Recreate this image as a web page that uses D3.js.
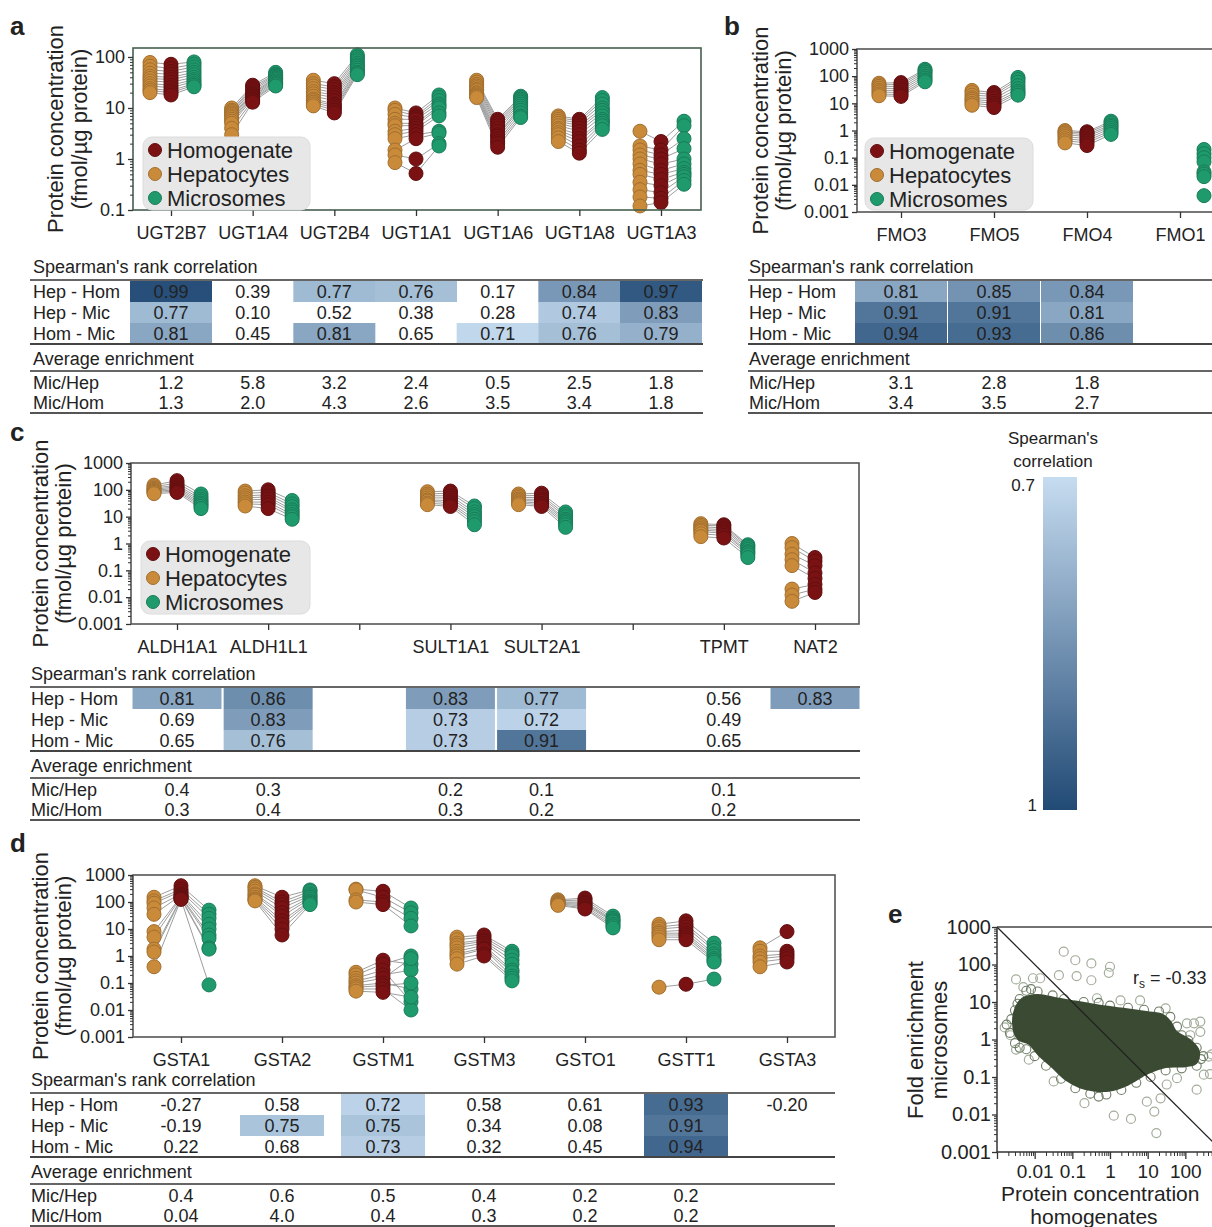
<!DOCTYPE html>
<html>
<head>
<meta charset="utf-8">
<script src="https://cdn.jsdelivr.net/npm/d3@7"></script>
<style>
  body { margin: 0; background: #fff; }
  svg text { font-family: "Liberation Sans", Arial, sans-serif; fill: #222; }
</style>
</head>
<body>
<svg id="fig" width="1212" height="1227"></svg>
<script>
// ---------- panel a : UGTs (one inner list per gene, one value per donor) ----------
var ugtGenes = ["UGT2B7", "UGT1A4", "UGT2B4", "UGT1A1", "UGT1A6", "UGT1A8", "UGT1A3"];
var ugtHep = [
  [78, 66, 56, 48, 42, 38, 34, 30, 27, 24, 22, 20],
  [10, 9, 8.5, 8, 7.5, 7, 6.5, 6, 5.5, 5, 4, 3],
  [35, 30, 27, 24, 21, 19, 17, 15, 14, 13, 12, 11],
  [10, 9, 7.5, 6, 5, 4.5, 3.5, 3, 2.5, 1.5, 1.2, 0.85],
  [35, 32, 29, 27, 25, 23, 22, 20, 19, 18, 17, 16],
  [7, 6.5, 6, 5.5, 5, 4.5, 4, 3.7, 3.3, 3, 2.6, 2.2],
  [3.5, 1.8, 1.5, 1.2, 1.0, 0.8, 0.6, 0.5, 0.35, 0.25, 0.18, 0.12]
];
var ugtHom = [
  [72, 60, 52, 46, 40, 36, 32, 28, 25, 22, 20, 18],
  [28, 26, 24, 22, 20, 19, 18, 17, 16, 15, 14, 13],
  [30, 26, 23, 20, 18, 16, 14, 12, 11, 10, 9, 8],
  [8, 7, 6.5, 6, 5, 4.5, 4, 3.5, 3, 2.5, 1.0, 0.52],
  [6, 5.5, 5, 4.5, 4, 3.5, 3, 2.8, 2.5, 2.2, 2, 1.7],
  [6, 5.5, 5, 4.5, 4, 3.5, 3, 2.5, 2.2, 1.8, 1.5, 1.3],
  [2.2, 1.5, 1.2, 1.0, 0.8, 0.6, 0.5, 0.4, 0.3, 0.22, 0.17, 0.14]
];
var ugtMic = [
  [80, 72, 64, 56, 50, 45, 40, 36, 33, 30, 28, 26],
  [50, 46, 44, 42, 40, 38, 36, 34, 32, 30, 29, 27],
  [110, 100, 92, 84, 76, 70, 65, 60, 55, 50, 48, 45],
  [18, 16, 14, 12, 11, 10, 8, 7, 3.5, 3.2, 2, 1.8],
  [17, 16, 15, 14, 13, 12, 11, 10, 9, 8, 7, 6.5],
  [16, 14, 12, 10, 9, 8, 7, 6, 5.5, 5, 4.5, 3.8],
  [5.5, 4.5, 2.5, 1.6, 1.0, 0.8, 0.65, 0.55, 0.5, 0.45, 0.38, 0.32]
];
var ugtCorr = [
  [0.99, 0.39, 0.77, 0.76, 0.17, 0.84, 0.97],
  [0.77, 0.10, 0.52, 0.38, 0.28, 0.74, 0.83],
  [0.81, 0.45, 0.81, 0.65, 0.71, 0.76, 0.79]
];
var ugtEnr = [
  ["1.2", "5.8", "3.2", "2.4", "0.5", "2.5", "1.8"],
  ["1.3", "2.0", "4.3", "2.6", "3.5", "3.4", "1.8"]
];

// ---------- panel b : FMOs ----------
var fmoGenes = ["FMO3", "FMO5", "FMO4", "FMO1"];
var fmoHep = [
  [55, 48, 42, 36, 30, 26, 22, 19],
  [30, 25, 20, 16, 14, 12, 10, 8.5],
  [1.0, 0.9, 0.8, 0.7, 0.6, 0.5, 0.42, 0.35],
  null
];
var fmoHom = [
  [58, 50, 42, 35, 30, 25, 21, 18],
  [25, 21, 18, 15, 12, 10, 8.5, 7],
  [0.9, 0.8, 0.7, 0.6, 0.5, 0.42, 0.35, 0.28],
  null
];
var fmoMic = [
  [180, 160, 140, 120, 100, 85, 72, 62],
  [90, 75, 60, 45, 35, 28, 24, 20],
  [2.2, 1.9, 1.6, 1.4, 1.2, 1.0, 0.85, 0.72],
  [0.2, 0.14, 0.1, 0.07, 0.03, 0.025, 0.02, 0.004]
];
var fmoCorr = [
  [0.81, 0.85, 0.84],
  [0.91, 0.91, 0.81],
  [0.94, 0.93, 0.86]
];
var fmoEnr = [
  ["3.1", "2.8", "1.8"],
  ["3.4", "3.5", "2.7"]
];

// ---------- panel c : ALDH / SULT / TPMT / NAT ----------
var cSlots = ["ALDH1A1", "ALDH1L1", "", "SULT1A1", "SULT2A1", " ", "TPMT", "NAT2"];
var cGenes = ["ALDH1A1", "ALDH1L1", "SULT1A1", "SULT2A1", "TPMT", "NAT2"];
var cHep = [
  [150, 130, 115, 105, 95, 88, 80, 72],
  [90, 75, 60, 50, 42, 35, 30, 25],
  [85, 70, 60, 50, 42, 38, 32, 28],
  [70, 60, 52, 45, 40, 36, 32, 28],
  [5.5, 4.8, 4.2, 3.6, 3.2, 2.8, 2.3, 1.8],
  [1.0, 0.7, 0.4, 0.25, 0.15, 0.02, 0.012, 0.007]
];
var cHom = [
  [220, 180, 150, 130, 115, 100, 90, 80],
  [100, 80, 65, 55, 45, 35, 28, 20],
  [90, 75, 60, 50, 40, 33, 28, 24],
  [75, 62, 52, 44, 38, 32, 28, 24],
  [5, 4.5, 3.8, 3.3, 2.8, 2.4, 2, 1.6],
  [0.3, 0.22, 0.15, 0.08, 0.05, 0.03, 0.02, 0.015]
];
var cMic = [
  [70, 55, 45, 38, 32, 28, 24, 20],
  [40, 30, 24, 18, 15, 12, 10, 8],
  [25, 20, 15, 12, 10, 8, 6.5, 5],
  [15, 12, 10, 8, 7, 6, 5, 4],
  [0.9, 0.8, 0.7, 0.6, 0.5, 0.45, 0.38, 0.3],
  null
];
var cCorr = [
  [0.81, 0.86, null, 0.83, 0.77, null, 0.56, 0.83],
  [0.69, 0.83, null, 0.73, 0.72, null, 0.49, null],
  [0.65, 0.76, null, 0.73, 0.91, null, 0.65, null]
];
var cEnr = [
  ["0.4", "0.3", null, "0.2", "0.1", null, "0.1", null],
  ["0.3", "0.4", null, "0.3", "0.2", null, "0.2", null]
];

// ---------- panel d : GSTs ----------
var gstGenes = ["GSTA1", "GSTA2", "GSTM1", "GSTM3", "GSTO1", "GSTT1", "GSTA3"];
var gstHep = [
  [150, 110, 90, 60, 35, 8, 5, 1.8, 1.4, 0.4],
  [400, 350, 300, 250, 200, 180, 150, 130, 120, 110],
  [300, 280, 120, 100, 0.25, 0.2, 0.15, 0.12, 0.1, 0.08, 0.07, 0.06, 0.05],
  [5, 4, 3, 2.5, 2, 1.5, 1.2, 1, 0.8, 0.5],
  [120, 110, 100, 95, 90, 85, 80, 75],
  [15, 12, 10, 8, 7, 6, 5, 4, 0.07],
  [2, 1.5, 1, 0.8, 0.6, 0.4]
];
var gstHom = [
  [400, 300, 250, 200, 180, 160, 150, 140, 130, 125],
  [150, 100, 80, 60, 40, 30, 20, 15, 10, 6],
  [250, 150, 100, 80, 0.7, 0.5, 0.3, 0.2, 0.15, 0.1, 0.08, 0.06, 0.045],
  [6, 5, 4, 3.5, 3, 2.5, 2, 1.8, 1.2, 1],
  [140, 120, 100, 90, 80, 70, 60, 55],
  [20, 15, 12, 9, 7, 6, 5, 4, 0.09],
  [8, 1.5, 1.2, 1, 0.8, 0.6]
];
var gstMic = [
  [50, 35, 25, 15, 10, 6, 4.5, 2, 1.8, 0.085],
  [280, 250, 200, 170, 150, 130, 110, 100, 90, 80],
  [60, 40, 25, 13, 0.5, 1.0, 0.02, 0.3, 0.8, 0.06, 0.1, 0.01, 0.03],
  [1.5, 1.2, 1, 0.7, 0.5, 0.3, 0.25, 0.18, 0.15, 0.12],
  [30, 25, 22, 20, 18, 15, 13, 11],
  [3, 2, 1.6, 1.2, 1, 0.8, 0.7, 0.6, 0.14],
  null
];
var gstCorr = [
  [-0.27, 0.58, 0.72, 0.58, 0.61, 0.93, -0.20],
  [-0.19, 0.75, 0.75, 0.34, 0.08, 0.91, null],
  [0.22, 0.68, 0.73, 0.32, 0.45, 0.94, null]
];
var gstEnr = [
  ["0.4", "0.6", "0.5", "0.4", "0.2", "0.2", null],
  ["0.04", "4.0", "0.4", "0.3", "0.2", "0.2", null]
];

// ---------- panel e : fold enrichment vs homogenate concentration ----------
// dense core outline, then single proteins around its edge and far outliers
var eBlob = [
  [0.003, 1.5], [0.0029, 5], [0.0048, 12], [0.012, 15], [0.04, 12], [0.12, 10], [0.45, 8],
  [2, 6.5], [10, 5.2], [26, 4.3], [40, 2.8], [55, 1.6], [130, 0.95], [220, 0.5], [190, 0.24],
  [100, 0.2], [30, 0.19], [10, 0.13], [3, 0.065], [1, 0.045], [0.37, 0.045], [0.16, 0.055],
  [0.07, 0.085], [0.028, 0.2], [0.014, 0.37], [0.007, 0.8], [0.004, 1.0]
];
var eNear = [
  [0.0024, 3.5], [0.0022, 1.5], [0.003, 0.8], [0.004, 0.6], [0.003, 6], [0.004, 12], [0.006, 20],
  [0.008, 22], [0.012, 19], [0.03, 15], [0.06, 12], [0.2, 10], [0.5, 9.5], [1, 8], [3, 7],
  [8, 6.2], [20, 5.6], [40, 4], [60, 2.2], [80, 1.3], [120, 0.95], [200, 0.6], [300, 0.36],
  [260, 0.3], [200, 0.2], [80, 0.17], [30, 0.15], [12, 0.1], [5, 0.07], [2, 0.045],
  [0.8, 0.034], [0.3, 0.036], [0.12, 0.05], [0.05, 0.09], [0.02, 0.2], [0.01, 0.36],
  [0.006, 0.55], [0.5, 0.03], [15, 0.2], [100, 0.3], [0.0018, 2.5], [0.0035, 9]
];
var eFar = [
  [0.059, 220], [0.12, 130], [0.32, 107], [1.0, 87], [0.93, 60], [0.32, 38], [0.13, 49],
  [0.044, 52], [0.014, 43], [0.009, 43], [0.005, 25], [0.0032, 40], [0.0016, 2.1],
  [0.0023, 1.3], [0.0032, 0.54], [0.007, 0.29], [0.032, 0.076], [0.21, 0.02], [1.26, 0.0093],
  [3.6, 0.0076], [9.5, 0.022], [15, 0.012], [17, 0.0032], [22, 0.027], [32, 0.063],
  [60, 0.093], [200, 0.046], [310, 0.115], [420, 0.35], [170, 2.7], [110, 2.7], [250, 3],
  [30, 6.8], [6.3, 11], [1.9, 11], [0.45, 12.6], [250, 1.6], [135, 1.3], [500, 0.4], [450, 0.12]
];
var eDiag = [[0.001, 1000], [1000, 0.001]];

var rowLabels = ["Hep - Hom", "Hep - Mic", "Hom - Mic"];
var enrLabels = ["Mic/Hep", "Mic/Hom"];
var legendLabels = ["Homogenate", "Hepatocytes", "Microsomes"];

var colHom = "#7a1214", colHep = "#c98a3a", colMic = "#1f9a6d";
var cellColor = d3.scaleLinear().domain([0.7, 1]).range(["#c6dcf0", "#214a75"]);

var svg = d3.select("#fig");

function logAxisLeft(g, y, x0, fs, tick, pad) {
  var all = y.ticks();
  var majors = all.filter(function(v) { return Math.abs(Math.log10(v) - Math.round(Math.log10(v))) < 1e-6; });
  var minors = all.filter(function(v) { return majors.indexOf(v) < 0; });
  var mi = g.append("g").attr("transform", "translate(" + x0 + ",0)")
    .call(d3.axisLeft(y).tickValues(minors).tickSize(3).tickFormat(""));
  mi.select(".domain").remove();
  mi.selectAll("line").attr("stroke", "#333");
  var ma = g.append("g").attr("transform", "translate(" + x0 + ",0)")
    .call(d3.axisLeft(y).tickValues(majors).tickSize(tick).tickPadding(pad).tickFormat(d3.format("~g")))
    .attr("font-size", fs);
  ma.select(".domain").remove();
  ma.selectAll("line").attr("stroke", "#333").attr("stroke-width", 1.3);
}

function dotPanel(o) {
  var g = svg.append("g");
  var y = d3.scaleLog().domain(o.yDomain).range([o.bottom, o.top]);
  var x = d3.scalePoint().domain(o.slots).range(o.xRange);
  var sets = [{v: o.hep, c: colHep}, {v: o.hom, c: colHom}, {v: o.mic, c: colMic}];

  var lineG = g.append("g");
  o.genes.forEach(function(gene, i) {
    var n = d3.max(sets, function(s) { return s.v[i] ? s.v[i].length : 0; });
    for (var j = 0; j < n; j++) {
      var pts = [];
      sets.forEach(function(s, k) {
        if (s.v[i] && s.v[i][j] != null) pts.push([x(gene) + o.off[k], y(s.v[i][j])]);
      });
      if (pts.length > 1) {
        lineG.append("path").attr("d", d3.line()(pts))
          .attr("fill", "none").attr("stroke", "#9d9d9d").attr("stroke-width", 1);
      }
    }
  });

  sets.forEach(function(s, k) {
    var pts = [];
    o.genes.forEach(function(gene, i) {
      (s.v[i] || []).forEach(function(v) { if (v != null) pts.push({x: x(gene) + o.off[k], v: v}); });
    });
    g.append("g").selectAll("circle").data(pts).enter().append("circle")
      .attr("cx", function(d) { return d.x; })
      .attr("cy", function(d) { return y(d.v); })
      .attr("r", 7)
      .attr("fill", s.c)
      .attr("stroke", d3.color(s.c).darker(0.6))
      .attr("stroke-width", 1);
  });

  g.append("rect")
    .attr("x", o.left).attr("y", o.top)
    .attr("width", o.right - o.left).attr("height", o.bottom - o.top)
    .attr("fill", "none").attr("stroke", o.frame || "#555").attr("stroke-width", 1.6);

  logAxisLeft(g, y, o.left, 18, 5, 3);

  var xa = g.append("g").attr("transform", "translate(0," + o.bottom + ")")
    .call(d3.axisBottom(x).tickSize(6).tickPadding(10).tickFormat(function(d) { return d.trim(); }))
    .attr("font-size", 18);
  xa.select(".domain").remove();
  xa.selectAll("line").attr("stroke", "#333").attr("stroke-width", 1.3);

  // y title
  [["Protein concentration", o.titleX[0]], ["(fmol/\u00b5g protein)", o.titleX[1]]].forEach(function(t) {
    g.append("text")
      .attr("transform", "translate(" + t[1] + "," + ((o.top + o.bottom) / 2) + ") rotate(-90)")
      .attr("text-anchor", "middle").attr("font-size", 22).text(t[0]);
  });
  return x;
}

function legend(x0, y0, w, h) {
  var g = svg.append("g");
  g.append("rect").attr("x", x0).attr("y", y0).attr("width", w).attr("height", h)
    .attr("rx", 9).attr("fill", "#e7e7e7").attr("stroke", "#dcdcdc");
  var cols = [colHom, colHep, colMic];
  legendLabels.forEach(function(l, i) {
    var cy = y0 + 13 + i * 24;
    g.append("circle").attr("cx", x0 + 12).attr("cy", cy).attr("r", 6.5)
      .attr("fill", cols[i]).attr("stroke", d3.color(cols[i]).darker(0.6));
    g.append("text").attr("x", x0 + 24).attr("y", cy + 8).attr("font-size", 22).text(l);
  });
}

function table(o) {
  var g = svg.append("g");
  var L = o.line;
  g.append("text").attr("x", o.labelX).attr("y", L - 7).attr("font-size", 18).text("Spearman's rank correlation");
  g.append("text").attr("x", o.labelX).attr("y", L + 85).attr("font-size", 18).text("Average enrichment");

  o.corr.forEach(function(row, r) {
    var yTop = L + 1 + r * 21;
    row.forEach(function(v, c) {
      if (v == null) return;
      var cx = o.x(o.slots[c]);
      if (v >= 0.7) {
        g.append("rect").attr("x", cx - o.cellW / 2).attr("y", yTop)
          .attr("width", o.cellW).attr("height", 21).attr("fill", cellColor(v));
      }
      g.append("text").attr("x", cx).attr("y", yTop + 17).attr("text-anchor", "middle")
        .attr("font-size", 18).text(v.toFixed(2));
    });
    g.append("text").attr("x", o.labelX).attr("y", yTop + 17).attr("font-size", 18).text(rowLabels[r]);
  });

  o.enr.forEach(function(row, r) {
    var yb = L + 109 + r * 20;
    g.append("text").attr("x", o.labelX).attr("y", yb).attr("font-size", 18).text(enrLabels[r]);
    row.forEach(function(v, c) {
      if (v == null) return;
      g.append("text").attr("x", o.x(o.slots[c])).attr("y", yb).attr("text-anchor", "middle")
        .attr("font-size", 18).text(v);
    });
  });

  [[L, 1.5, "#333"], [L + 64, 2, "#444"], [L + 91, 1.5, "#333"], [L + 133, 2, "#555"]].forEach(function(l) {
    g.append("line").attr("x1", o.x0).attr("x2", o.x1).attr("y1", l[0]).attr("y2", l[0])
      .attr("stroke", l[2]).attr("stroke-width", l[1]);
  });
}

function panelLetter(t, x, y) {
  svg.append("text").attr("x", x).attr("y", y).attr("font-size", 26).attr("font-weight", "bold").text(t);
}

// ---- a ----
var xa = dotPanel({
  genes: ugtGenes, slots: ugtGenes, hep: ugtHep, hom: ugtHom, mic: ugtMic,
  left: 133, right: 701, top: 48, bottom: 210, yDomain: [0.1, 150],
  xRange: [171, 661], off: [-21, 0, 23], frame: "#45604f", titleX: [63, 87]
});
legend(143, 137, 167, 73);
table({x: xa, slots: ugtGenes, corr: ugtCorr, enr: ugtEnr, line: 280, labelX: 33, x0: 30, x1: 703, cellW: 82});
panelLetter("a", 10, 35);

// ---- b ----
var xb = dotPanel({
  genes: fmoGenes, slots: fmoGenes, hep: fmoHep, hom: fmoHom, mic: fmoMic,
  left: 857, right: 1240, top: 49, bottom: 212, yDomain: [0.001, 1000],
  xRange: [901, 1180], off: [-22, 0, 24], titleX: [768, 791]
});
legend(865, 138, 168, 72);
table({x: xb, slots: fmoGenes.slice(0, 3), corr: fmoCorr, enr: fmoEnr, line: 280, labelX: 749, x0: 748, x1: 1212, cellW: 92});
panelLetter("b", 724, 35);

// ---- c ----
var xc = dotPanel({
  genes: cGenes, slots: cSlots, hep: cHep, hom: cHom, mic: cMic,
  left: 131, right: 859, top: 463, bottom: 624, yDomain: [0.001, 1000],
  xRange: [177, 815], off: [-23, 0, 24], titleX: [48, 71]
});
legend(141, 541, 169, 73);
table({x: xc, slots: cSlots, corr: cCorr, enr: cEnr, line: 687, labelX: 31, x0: 30, x1: 860, cellW: 89});
panelLetter("c", 10, 441);

// ---- d ----
var xd = dotPanel({
  genes: gstGenes, slots: gstGenes, hep: gstHep, hom: gstHom, mic: gstMic,
  left: 133, right: 835, top: 875, bottom: 1037, yDomain: [0.001, 1000],
  xRange: [181, 787], off: [-27, 0, 28], titleX: [48, 71]
});
table({x: xd, slots: gstGenes, corr: gstCorr, enr: gstEnr, line: 1093, labelX: 31, x0: 30, x1: 835, cellW: 84});
panelLetter("d", 10, 852);

// ---- colour bar ----
var defs = svg.append("defs");
var grad = defs.append("linearGradient").attr("id", "cbar").attr("x1", 0).attr("y1", 0).attr("x2", 0).attr("y2", 1);
[0.7, 0.85, 1].forEach(function(v) {
  grad.append("stop").attr("offset", (v - 0.7) / 0.3).attr("stop-color", cellColor(v));
});
svg.append("rect").attr("x", 1043).attr("y", 477).attr("width", 34).attr("height", 333).attr("fill", "url(#cbar)");
svg.append("text").attr("x", 1053).attr("y", 444).attr("text-anchor", "middle").attr("font-size", 17).text("Spearman's");
svg.append("text").attr("x", 1053).attr("y", 467).attr("text-anchor", "middle").attr("font-size", 17).text("correlation");
svg.append("text").attr("x", 1035).attr("y", 491).attr("text-anchor", "end").attr("font-size", 17).text("0.7");
svg.append("text").attr("x", 1037).attr("y", 811).attr("text-anchor", "end").attr("font-size", 17).text("1");

// ---- e ----
var ge = svg.append("g");
var ex = d3.scaleLog().domain([0.001, 1000]).range([997, 1223]);
var ey = d3.scaleLog().domain([0.001, 1000]).range([1152, 927]);
var pline = d3.line().x(function(d) { return ex(d[0]); }).y(function(d) { return ey(d[1]); });

ge.append("g").selectAll("circle").data(eFar).enter().append("circle")
  .attr("cx", function(d) { return ex(d[0]); }).attr("cy", function(d) { return ey(d[1]); })
  .attr("r", 4.5).attr("fill", "none").attr("stroke", "#a2ad9b").attr("stroke-width", 1.2);
ge.append("g").selectAll("circle").data(eNear).enter().append("circle")
  .attr("cx", function(d) { return ex(d[0]); }).attr("cy", function(d) { return ey(d[1]); })
  .attr("r", 4.5).attr("fill", "none").attr("stroke", "#6f7d67").attr("stroke-width", 1.1);
ge.append("path").attr("d", pline.curve(d3.curveCatmullRomClosed)(eBlob))
  .attr("fill", "#3b4a32").attr("stroke", "#3b4a32").attr("stroke-width", 3);
ge.append("path").attr("d", pline.curve(d3.curveLinear)(eDiag))
  .attr("fill", "none").attr("stroke", "#222").attr("stroke-width", 1.3);

ge.append("line").attr("x1", 997).attr("x2", 1212).attr("y1", 927).attr("y2", 927).attr("stroke", "#444").attr("stroke-width", 1.5);
ge.append("line").attr("x1", 997).attr("x2", 997).attr("y1", 927).attr("y2", 1152).attr("stroke", "#333").attr("stroke-width", 1.5);
ge.append("line").attr("x1", 997).attr("x2", 1212).attr("y1", 1152).attr("y2", 1152).attr("stroke", "#333").attr("stroke-width", 1.5);
logAxisLeft(ge, ey, 997, 20, 5, 1);

var exAll = ex.ticks();
var exMaj = exAll.filter(function(v) { return Math.abs(Math.log10(v) - Math.round(Math.log10(v))) < 1e-6; });
var exMin = exAll.filter(function(v) { return exMaj.indexOf(v) < 0; });
var exm = ge.append("g").attr("transform", "translate(0,1152)")
  .call(d3.axisBottom(ex).tickValues(exMin).tickSize(4).tickFormat(""));
exm.select(".domain").remove();
exm.selectAll("line").attr("stroke", "#333");
var exM = ge.append("g").attr("transform", "translate(0,1152)")
  .call(d3.axisBottom(ex).tickValues(exMaj).tickSize(7).tickPadding(6)
    .tickFormat(function(d) { return (d >= 0.01 && d <= 100) ? d3.format("~g")(d) : ""; }))
  .attr("font-size", 19);
exM.select(".domain").remove();
exM.selectAll("line").attr("stroke", "#333").attr("stroke-width", 1.3);

var rs = ge.append("text").attr("x", 1133).attr("y", 984).attr("font-size", 18);
rs.append("tspan").text("r");
rs.append("tspan").attr("font-size", 12).attr("dy", 4).text("s");
rs.append("tspan").attr("dy", -4).text(" = -0.33");

ge.append("text").attr("transform", "translate(923,1040) rotate(-90)").attr("text-anchor", "middle").attr("font-size", 22).text("Fold enrichment");
ge.append("text").attr("transform", "translate(947,1040) rotate(-90)").attr("text-anchor", "middle").attr("font-size", 22).text("microsomes");
ge.append("text").attr("x", 1001).attr("y", 1201).attr("font-size", 21).text("Protein concentration");
ge.append("text").attr("x", 1094).attr("y", 1224).attr("text-anchor", "middle").attr("font-size", 21).text("homogenates");
panelLetter("e", 888, 923);
</script>
</body>
</html>
